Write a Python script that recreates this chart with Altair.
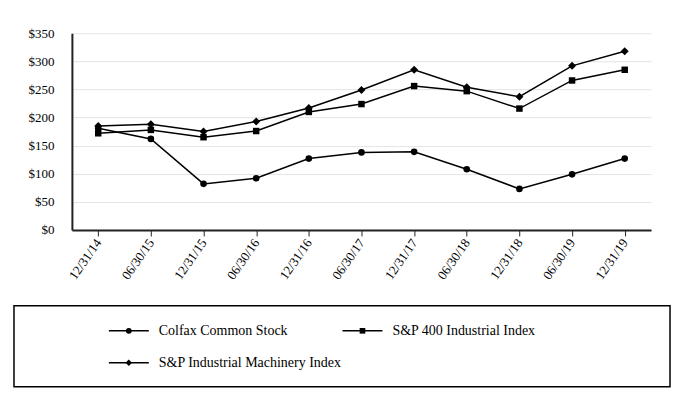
import altair as alt
import pandas as pd

dates = ["12/31/14", "06/30/15", "12/31/15", "06/30/16", "12/31/16", "06/30/17",
         "12/31/17", "06/30/18", "12/31/18", "06/30/19", "12/31/19"]
series = ["Colfax Common Stock", "S&P 400 Industrial Index", "S&P Industrial Machinery Index"]
colfax = [181, 162, 82, 92, 127, 138, 139, 108, 73, 99, 127]
sp400 = [172, 178, 165, 176, 210, 224, 256, 247, 216, 266, 285]
machinery = [185, 188, 175, 193, 217, 249, 285, 254, 237, 292, 318]
shapes = ["circle", "square", "diamond"]
marker_sizes = [44, 42, 64]
legend_marker_sizes = [34, 32, 42]
y_ticks = [0, 50, 100, 150, 200, 250, 300, 350]

FONT = "Liberation Serif, Times New Roman, Times, DejaVu Serif, serif"

rows = []
for name, vals in zip(series, [colfax, sp400, machinery]):
    for d, v in zip(dates, vals):
        rows.append({"date": d, "series": name, "value": v})
df = pd.DataFrame(rows)

AXIS_W = 58      # room for the y-axis labels inside the view
PLOT_W = 580
x_enc = alt.X("date:N", sort=dates,
              scale=alt.Scale(type="point", padding=0.5, range=[AXIS_W, AXIS_W + PLOT_W]),
              axis=alt.Axis(title=None, labelAngle=305, labelAlign="right",
                            labelBaseline="middle", ticks=True, tickSize=6,
                            tickColor="#222", domainColor="#222", domainWidth=2,
                            labelPadding=4, grid=False))
y_enc = alt.Y("value:Q", scale=alt.Scale(domain=[0, 350], nice=False),
              axis=alt.Axis(title=None, values=y_ticks, labelExpr="'$' + datum.value",
                            grid=True, gridColor="#e4e4e4", gridWidth=1,
                            domainColor="#222", domainWidth=2, ticks=False,
                            labelPadding=18, offset=-AXIS_W))

lines = alt.Chart(df).mark_line(color="black", strokeWidth=1.5).encode(
    x=x_enc, y=y_enc, detail="series:N")
point_layers = [
    alt.Chart(df).transform_filter(alt.datum.series == s).mark_point(
        filled=True, color="black", opacity=1, shape=shp, size=sz).encode(x=x_enc, y=y_enc)
    for s, shp, sz in zip(series, shapes, marker_sizes)
]

main = alt.layer(lines, *point_layers).properties(
    width=AXIS_W + PLOT_W, height=197, view=alt.ViewBackground(stroke="transparent"))

leg_rows = [{"series": s, "col": i % 2, "row": i // 2} for i, s in enumerate(series)]
leg_df = pd.DataFrame(leg_rows)

lx = alt.X("col:Q", scale=alt.Scale(domain=[0, 1], range=[115, 349]), axis=None)
ly = alt.Y("row:Q", scale=alt.Scale(domain=[0, 1], range=[25, 57]), axis=None)

leg_rule = alt.Chart(leg_df).mark_rule(color="black", strokeWidth=1.5, xOffset=-20, x2Offset=20).encode(
    x=lx, x2="col:Q", y=ly)
leg_pts = [
    alt.Chart(leg_df).transform_filter(alt.datum.series == s).mark_point(
        filled=True, color="black", opacity=1, shape=shp, size=sz).encode(x=lx, y=ly)
    for s, shp, sz in zip(series, shapes, legend_marker_sizes)
]
leg_txt = alt.Chart(leg_df).mark_text(align="left", baseline="middle", dx=30, font=FONT,
                                      fontSize=14, color="black").encode(
    x=lx, y=ly, text="series:N")

legend = alt.layer(leg_rule, *leg_pts, leg_txt).properties(
    width=657, height=81, view=alt.ViewBackground(stroke="black", strokeWidth=1.5))

chart = alt.concat(main, legend, columns=1, spacing=22).properties(
    padding={"left": 5, "top": 18, "right": 5, "bottom": 5},
    background="white",
).configure(font=FONT).configure_axis(
    labelFont=FONT, labelFontSize=13, labelColor="black"
)

chart.save("out.html", embed_options={"renderer": "svg", "actions": False})
